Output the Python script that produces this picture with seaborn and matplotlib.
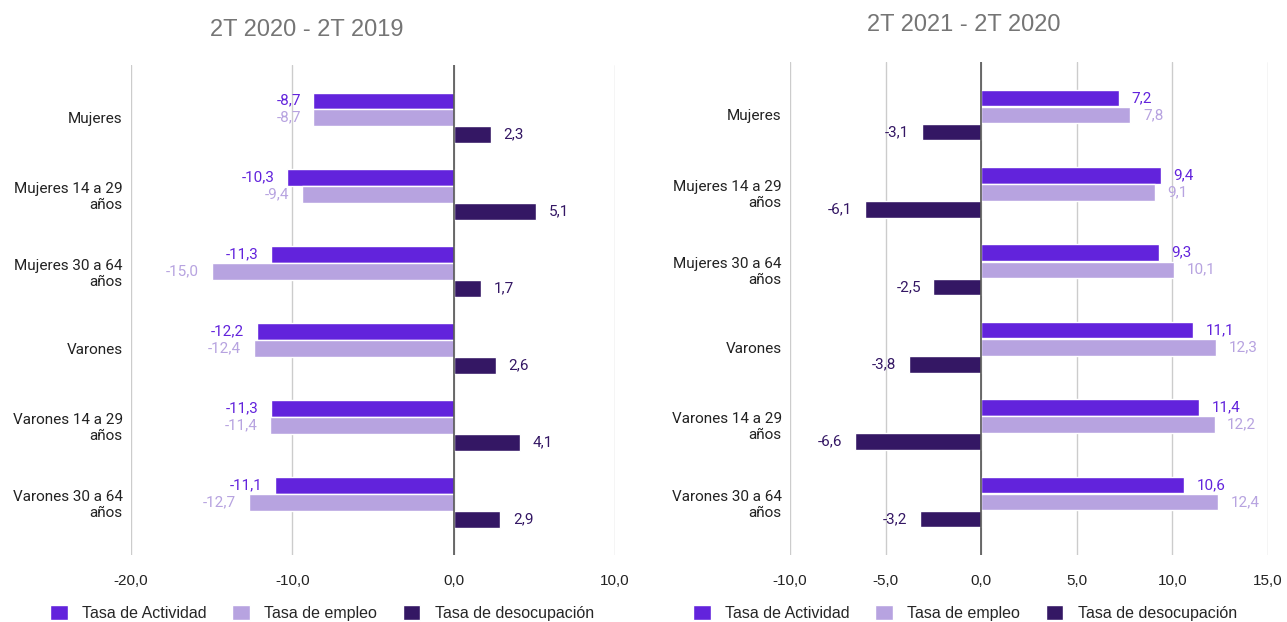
import pandas as pd
import matplotlib
matplotlib.use("Agg")
import matplotlib.pyplot as plt
import seaborn as sns
from matplotlib.patches import Patch


categories = [
    "Mujeres",
    "Mujeres 14 a 29\naños",
    "Mujeres 30 a 64\naños",
    "Varones",
    "Varones 14 a 29\naños",
    "Varones 30 a 64\naños",
]
series = ["Tasa de Actividad", "Tasa de empleo", "Tasa de desocupación"]
colors = ["#6223DC", "#B7A3E0", "#341764"]

# 2T 2020 - 2T 2019
act_2020 = [-8.7, -10.3, -11.3, -12.2, -11.3, -11.1]
emp_2020 = [-8.7, -9.4, -15.0, -12.4, -11.4, -12.7]
des_2020 = [2.3, 5.1, 1.7, 2.6, 4.1, 2.9]

# 2T 2021 - 2T 2020
act_2021 = [7.2, 9.4, 9.3, 11.1, 11.4, 10.6]
emp_2021 = [7.8, 9.1, 10.1, 12.3, 12.2, 12.4]
des_2021 = [-3.1, -6.1, -2.5, -3.8, -6.6, -3.2]

xticks_left = [-20, -10, 0, 10]
xticks_right = [-10, -5, 0, 5, 10, 15]


def long_table(act, emp, des):
    rows = []
    for name, vals in zip(series, [act, emp, des]):
        for c, v in zip(categories, vals):
            rows.append({"cat": c, "serie": name, "val": v})
    return pd.DataFrame(rows)


sns.set_style("white")
plt.rcParams["font.family"] = ["Roboto", "DejaVu Sans"]

fig = plt.figure(figsize=(12.87, 6.22), dpi=100)
ax1 = fig.add_axes([0.1018, 0.108, 0.376, 0.787])
ax2 = fig.add_axes([0.6138, 0.108, 0.3715, 0.792])


def draw(ax, df, xticks, title, title_pos, legend_x):
    sns.barplot(
        data=df, y="cat", x="val", hue="serie", orient="h",
        palette=colors, hue_order=series, order=categories,
        width=0.66, gap=0.03, ax=ax, legend=False, saturation=1,
    )
    for cont, col in zip(ax.containers, colors):
        ax.bar_label(
            cont, labels=[f"{b.get_width():.1f}".replace(".", ",") for b in cont],
            padding=9, color=col, fontsize=11,
        )
    ax.set_xlim(xticks[0], xticks[-1])
    ax.set_ylim(5.68, -0.68)
    ax.set_xticks(xticks)
    ax.set_xticklabels([f"{t:.1f}".replace(".", ",") for t in xticks],
                       fontfamily="Liberation Sans")
    ax.grid(axis="x", color="#cccccc", linewidth=1)
    ax.set_axisbelow(True)
    ax.axvline(0, color="#555555", linewidth=1.2, zorder=3)
    for s in ax.spines.values():
        s.set_visible(False)
    ax.tick_params(length=0, labelsize=11, colors="#222222")
    ax.tick_params(axis="x", pad=14)
    ax.tick_params(axis="y", pad=6)
    for lab in ax.get_yticklabels():
        lab.set_multialignment("right")
    ax.set_xlabel("")
    ax.set_ylabel("")
    fig.text(title_pos[0], title_pos[1], title, fontsize=17, color="#757575",
             ha="center", va="center", fontfamily="Liberation Sans")
    handles = [Patch(facecolor=c, label=s) for c, s in zip(colors, series)]
    fig.legend(handles=handles, loc="center", bbox_to_anchor=(legend_x, 1 - 613 / 622),
               ncol=3, frameon=False, prop={"family": "Liberation Sans", "size": 11.5},
               handlelength=1.1, handleheight=1.1, columnspacing=1.6, handletextpad=0.9,
               borderpad=0.1)


draw(ax1, long_table(act_2020, emp_2020, des_2020), xticks_left,
     "2T 2020 - 2T 2019", (307 / 1287, 1 - 30 / 622), 322 / 1287)
draw(ax2, long_table(act_2021, emp_2021, des_2021), xticks_right,
     "2T 2021 - 2T 2020", (964 / 1287, 1 - 25 / 622), 965 / 1287)

fig.savefig("out.png", dpi=100)
